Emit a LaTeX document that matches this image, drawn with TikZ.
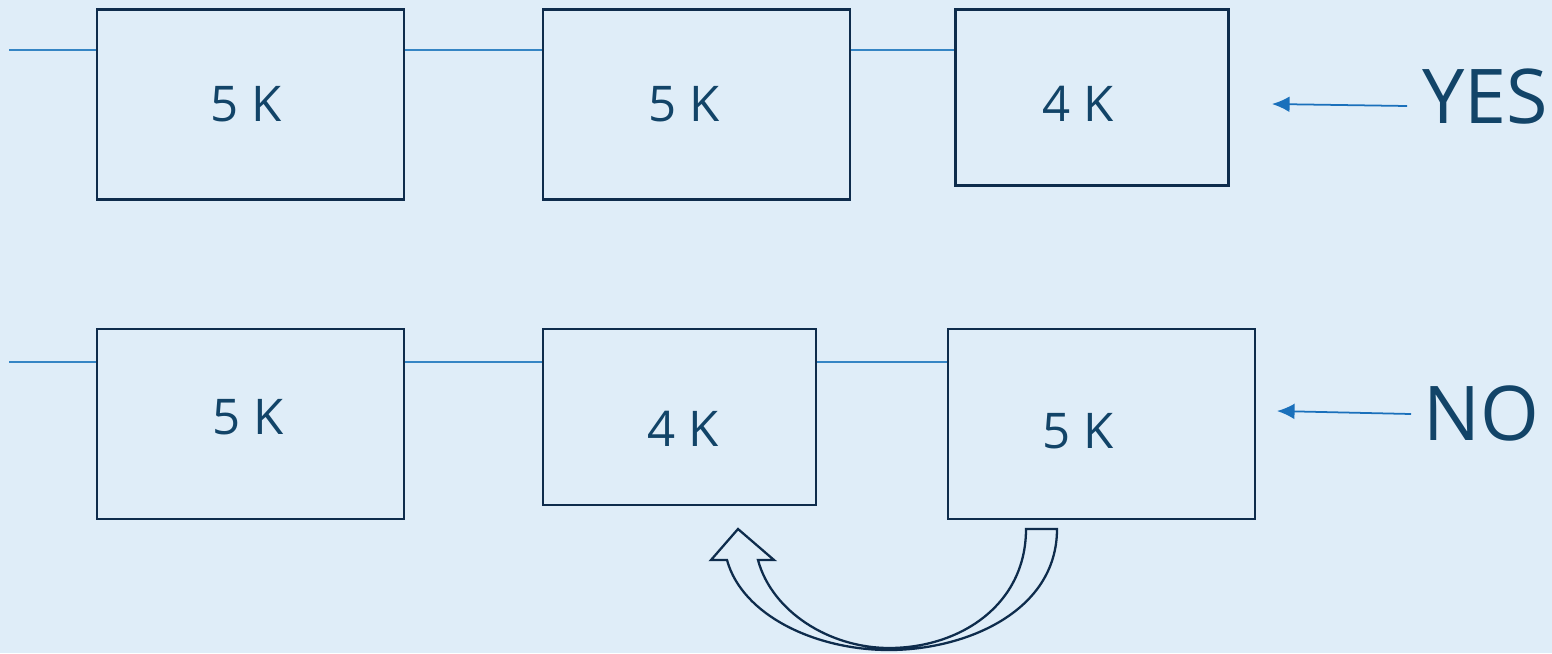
\documentclass[tikz,border=0pt]{standalone}
\usepackage{fontspec}
\setmainfont{Open Sans}
\usetikzlibrary{arrows.meta}

\definecolor{bgblue}{HTML}{DFEDF8}
\definecolor{boxnavy}{HTML}{0E2C4C}
\definecolor{txtblue}{HTML}{124468}
\definecolor{wireblue}{HTML}{3585C4}
\definecolor{arrowblue}{HTML}{1A70BB}

\tikzset{
  cell/.style={draw=boxnavy, line width=1.5pt, minimum width=6.14cm, minimum height=3.8cm, inner sep=0pt},
  cellsmall/.style={cell, minimum width=5.46cm, minimum height=3.52cm},
  celltext/.style={text=txtblue, font=\fontsize{28}{30}\selectfont, anchor=base, inner sep=0pt},
  answer/.style={text=txtblue, font=\fontsize{43}{44}\selectfont, anchor=base, inner sep=0pt},
  wire/.style={draw=wireblue, line width=0.6pt},
  pointer/.style={draw=arrowblue, line width=1pt, -{Latex[length=10pt,width=9pt]}},
}

\begin{document}
\begin{tikzpicture}[x=0.02cm, y=-0.02cm]
		% Background
		\fill[bgblue] (0,0) rectangle (1552,653);
		\useasboundingbox (0,0) rectangle (1552,653);

		% Top row of boxes
		\node[cell] (b1) at (250.5,104.5) {};
		\node[cell] (b2) at (696.5,104.5) {};
		\node[cellsmall] (b3) at (1092,97.5) {};

		\node[celltext] (t1) at (246.5,121) {5 K};
		\node[celltext] (t2) at (684,121) {5 K};
		\node[celltext] (t3) at (1078,121) {4 K};

		% Draw the wires of the top row
		\coordinate (wa) at (9,50);
		\draw[wire] (wa) -- (wa -| b1.west);
		\draw[wire] (wa -| b1.east) -- (wa -| b2.west);
		\draw[wire] (wa -| b2.east) -- (wa -| b3.west);

		% Bottom row of boxes
		\node[cell] (c1) at (250.5,424) {};
		\node[cellsmall] (c2) at (679.5,417) {};
		\node[cell] (c3) at (1101.5,424) {};

		\node[celltext] (u1) at (248,434) {5 K};
		\node[celltext] (u2) at (683,446) {4 K};
		\node[celltext] (u3) at (1078,448) {5 K};

		% Draw the wires of the bottom row
		\coordinate (wb) at (9,362);
		\draw[wire] (wb) -- (wb -| c1.west);
		\draw[wire] (wb -| c1.east) -- (wb -| c2.west);
		\draw[wire] (wb -| c2.east) -- (wb -| c3.west);

		% Answers with their arrows
		\node[answer] (yes) at (1485,123) {YES};
		\node[answer] (no) at (1481,440) {NO};

		\coordinate (ya) at (1407,106);
		\coordinate (yb) at (1272,104);
		\coordinate (na) at (1411,414);
		\coordinate (nb) at (1277,411);
		\draw[pointer] (ya) -- (yb);
		\draw[pointer] (na) -- (nb);

		% Draw the curved block arrow from the third box to the second
		\draw[boxnavy, line width=1.3pt, line join=miter, fill=bgblue]
			(1026,529) -- (1057,529)
			.. controls (1057,612) and (965,650) .. (889,650)
			.. controls (815,650) and (742,615) .. (727,560)
			-- (711,560) -- (738,529) -- (774,560) -- (758,560)
			.. controls (772,612) and (830,648) .. (889,648)
			.. controls (960,648) and (1026,605) .. cycle;
	\end{tikzpicture}
\end{document}
